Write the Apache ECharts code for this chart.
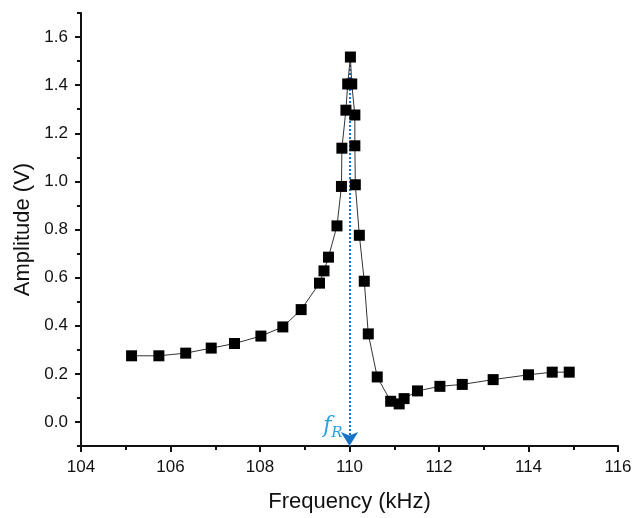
<!DOCTYPE html>
<html>
<head>
<meta charset="utf-8">
<script src="https://cdn.jsdelivr.net/npm/echarts@6/dist/echarts.min.js"></script>
<style>
  html, body { margin: 0; padding: 0; background: #fff; }
  #chart { width: 635px; height: 518px; }
</style>
</head>
<body>
<div id="chart"></div>
<script>
// Resonance sweep: drive frequency (kHz) vs. response amplitude (V)
const frequency = [105.13, 105.74, 106.34, 106.91, 107.43, 108.02, 108.51, 108.92, 109.33, 109.43,
  109.53, 109.72, 109.82, 109.83, 109.92, 109.96, 110.02, 110.05, 110.12, 110.12,
  110.13, 110.22, 110.33, 110.42, 110.62, 110.92, 111.11, 111.22, 111.52, 112.02,
  112.52, 113.21, 114.00, 114.53, 114.91];
const amplitude = [0.275, 0.275, 0.286, 0.307, 0.326, 0.357, 0.395, 0.467, 0.577, 0.628,
  0.685, 0.815, 0.979, 1.138, 1.296, 1.405, 1.517, 1.405, 1.276, 1.148,
  0.986, 0.776, 0.585, 0.366, 0.187, 0.086, 0.075, 0.097, 0.129, 0.148,
  0.156, 0.176, 0.196, 0.207, 0.207];

// Resonance frequency marker
const resonanceFreq = 110;
const resonancePeak = 1.517;

// Tick positions for the amplitude axis
const yMajorTicks = [0, 0.2, 0.4, 0.6, 0.8, 1.0, 1.2, 1.4, 1.6];
const yMinorTicks = [-0.1, 0.1, 0.3, 0.5, 0.7, 0.9, 1.1, 1.3, 1.5, 1.7];

const points = frequency.map((f, i) => [f, amplitude[i]]);

const axisFont = { fontFamily: 'Liberation Sans, Arial, sans-serif', color: '#111' };

const chart = echarts.init(document.getElementById('chart'));
chart.setOption({
  animation: false,
  grid: { left: 81, right: 17, top: 13, bottom: 71 },
  xAxis: {
    type: 'value',
    min: 104, max: 116, interval: 2,
    name: 'Frequency (kHz)',
    nameLocation: 'middle',
    nameGap: 45,
    nameTextStyle: Object.assign({ fontSize: 22 }, axisFont),
    axisLine: { show: true, onZero: false, lineStyle: { color: '#111', width: 2 } },
    axisTick: { show: true, inside: false, length: 6, lineStyle: { color: '#111', width: 2 } },
    minorTick: { show: true, splitNumber: 2, length: 4, lineStyle: { color: '#111', width: 2 } },
    splitLine: { show: false },
    axisLabel: Object.assign({ fontSize: 17, margin: 13 }, axisFont)
  },
  yAxis: [
    {
      type: 'value',
      min: -0.1, max: 1.7,
      name: 'Amplitude (V)',
      nameLocation: 'middle',
      nameGap: 42,
      nameTextStyle: Object.assign({ fontSize: 22 }, axisFont),
      axisLine: { show: true, onZero: false, lineStyle: { color: '#111', width: 2 } },
      axisTick: { show: true, length: 6, customValues: yMajorTicks, lineStyle: { color: '#111', width: 2 } },
      axisLabel: Object.assign({
        fontSize: 17, margin: 13, customValues: yMajorTicks,
        formatter: v => v.toFixed(1)
      }, axisFont),
      splitLine: { show: false }
    },
    {
      type: 'value',
      position: 'left',
      min: -0.1, max: 1.7,
      axisLine: { show: false },
      axisTick: { show: true, length: 4, customValues: yMinorTicks, lineStyle: { color: '#111', width: 2 } },
      axisLabel: { show: false },
      splitLine: { show: false }
    }
  ],
  series: [
    {
      type: 'line',
      data: points,
      yAxisIndex: 0,
      symbol: 'rect',
      symbolSize: 11,
      itemStyle: { color: '#000' },
      lineStyle: { color: '#333', width: 1 },
      z: 3,
      markLine: {
        silent: true,
        symbol: ['none', 'arrow'],
        symbolSize: [13, 14],
        lineStyle: { color: '#1a72c8', type: 'dotted', width: 2 },
        label: { show: false },
        data: [[{ coord: [resonanceFreq, resonancePeak] }, { coord: [resonanceFreq, -0.1] }]],
        z: 2
      },
      markPoint: {
        silent: true,
        symbol: 'circle',
        symbolSize: 0,
        data: [{ coord: [109.63, -0.02] }],
        label: {
          show: true,
          formatter: '{f|f}{r|R}',
          rich: {
            f: { fontFamily: 'DejaVu Serif, Liberation Serif, serif', fontStyle: 'italic', fontSize: 22, color: '#2aa0dc' },
            r: { fontFamily: 'DejaVu Serif, Liberation Serif, serif', fontStyle: 'italic', fontSize: 15, color: '#2aa0dc', padding: [12, 0, 0, 0] }
          }
        }
      }
    }
  ]
});
</script>
</body>
</html>
